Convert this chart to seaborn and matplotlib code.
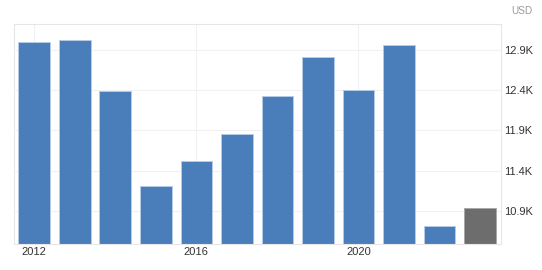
import numpy as np
import pandas as pd
import seaborn as sns
import matplotlib
matplotlib.use("Agg")
import matplotlib.pyplot as plt
from matplotlib.ticker import FuncFormatter

# ---- data (thousands of USD) ----
years = [str(y) for y in range(2012, 2024)]
values = [12.99, 13.015, 12.38, 11.205, 11.524, 11.857, 12.33, 12.804, 12.40, 12.953, 10.714, 10.934]
kind = ["actual"] * 11 + ["forecast"]
y_ticks = [10.9, 11.4, 11.9, 12.4, 12.9]
x_tick_years = ["2012", "2016", "2020"]
unit_label = "USD"

sns.set_theme(style="white")
plt.rcParams["font.family"] = ["Liberation Sans", "DejaVu Sans"]

W, H = 542, 270
fig = plt.figure(figsize=(W / 100, H / 100), dpi=100)
ax = fig.add_axes([14 / W, 26 / H, 487 / W, 219.5 / H])

df = pd.DataFrame({"year": years, "value": values, "kind": kind})
sns.barplot(data=df, x="year", y="value", hue="kind",
            palette={"actual": "#4a7ebb", "forecast": "#6d6d6d"},
            dodge=False, width=0.78, saturation=1, legend=False, ax=ax)

for p, k in zip(ax.patches, kind):
    p.set_edgecolor("#b5cbe8" if k == "actual" else "#a8a8a8")
    p.set_linewidth(0.7)

ax.set_ylim(10.49, 13.21)
ax.set_xlim(-0.5, 11.52)
ax.yaxis.tick_right()
ax.set_yticks(y_ticks)
ax.yaxis.set_major_formatter(FuncFormatter(lambda v, _: f"{v:.1f}K"))
ax.set_xticks([years.index(y) for y in x_tick_years])
ax.set_xticklabels(x_tick_years)
ax.set_xlabel("")
ax.set_ylabel("")

ax.grid(True, color="#f1f1f1", lw=0.8)
ax.set_axisbelow(True)
for s in ax.spines.values():
    s.set_color("#e6e6e6")
    s.set_linewidth(0.8)
ax.tick_params(axis="both", length=0, labelsize=8, colors="#333333")
ax.tick_params(axis="y", pad=2.2)
ax.tick_params(axis="x", pad=2)

fig.text(522 / W, 1 - 11 / H, unit_label, ha="center", va="center",
         color="#999999", fontsize=7.2)

fig.savefig("out.png", dpi=100)
